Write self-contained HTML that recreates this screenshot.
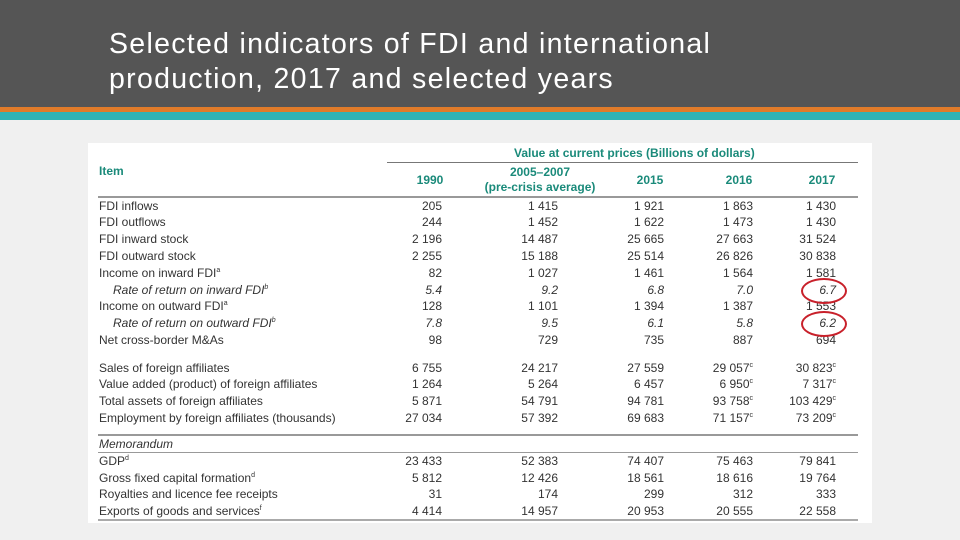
<!DOCTYPE html>
<html><head><meta charset="utf-8">
<style>
body{margin:0;width:960px;height:540px;overflow:hidden;background:#f0f0f0;font-family:"Liberation Sans",sans-serif;position:relative}
#bar{position:absolute;left:0;top:0;width:960px;height:107px;background:#555555}
#or{position:absolute;left:0;top:107px;width:960px;height:5px;background:#e07b2a}
#te{position:absolute;left:0;top:112px;width:960px;height:8px;background:#2fb3b5}
#title{position:absolute;left:109px;top:27px;color:#fff;font-size:28.5px;letter-spacing:1.3px;line-height:35px}
#tbl{position:absolute;left:88px;top:143px;width:784px;height:380px;background:#fff}
.t{position:absolute;font-family:"Liberation Sans Narrow","Liberation Sans",sans-serif;font-size:12px;color:#333;white-space:nowrap;line-height:14px}
.h{color:#1a8a7a;font-weight:bold}
.r{text-align:right}
.i{font-style:italic}
.ln{position:absolute;background:#888;height:1px}
.circ{position:absolute;border:2px solid #c8202a;border-radius:50%;width:42px;height:22px}
sup{font-size:7px;line-height:0;vertical-align:5px}
</style></head><body>
<div id="bar"></div>
<div id="or"></div>
<div id="te"></div>
<div id="title">Selected indicators of FDI and international<br>production, 2017 and selected years</div>
<div id="tbl"></div>
<script>
const labels=["FDI inflows","FDI outflows","FDI inward stock","FDI outward stock","Income on inward FDI<sup>a</sup>","Rate of return on inward FDI<sup>b</sup>","Income on outward FDI<sup>a</sup>","Rate of return on outward FDI<sup>b</sup>","Net cross-border M&amp;As","Sales of foreign affiliates","Value added (product) of foreign affiliates","Total assets of foreign affiliates","Employment by foreign affiliates (thousands)","Memorandum","GDP<sup>d</sup>","Gross fixed capital formation<sup>d</sup>","Royalties and licence fee receipts","Exports of goods and services<sup>f</sup>"];
const rowsY=[206,222,239,256,273,290,306,323,340,368,384,401,418,444,461,478,494,511];
const vals=[
["205","1 415","1 921","1 863","1 430"],["244","1 452","1 622","1 473","1 430"],
["2 196","14 487","25 665","27 663","31 524"],["2 255","15 188","25 514","26 826","30 838"],
["82","1 027","1 461","1 564","1 581"],["5.4","9.2","6.8","7.0","6.7"],
["128","1 101","1 394","1 387","1 553"],["7.8","9.5","6.1","5.8","6.2"],
["98","729","735","887","694"],
["6 755","24 217","27 559","29 057<sup>c</sup>","30 823<sup>c</sup>"],
["1 264","5 264","6 457","6 950<sup>c</sup>","7 317<sup>c</sup>"],
["5 871","54 791","94 781","93 758<sup>c</sup>","103 429<sup>c</sup>"],
["27 034","57 392","69 683","71 157<sup>c</sup>","73 209<sup>c</sup>"],
null,
["23 433","52 383","74 407","75 463","79 841"],["5 812","12 426","18 561","18 616","19 764"],
["31","174","299","312","333"],["4 414","14 957","20 953","20 555","22 558"]];
const colR=[442,558,664,753,836];
function add(html,x,y,cls,name,right){
 const d=document.createElement('div');d.className='t '+cls;d.innerHTML=html;
 
 
 if(right){d.style.right=(960-x)+'px';}else d.style.left=x+'px';
 d.style.top=(y-7)+'px';document.body.appendChild(d);return d;}
function line(x,y,w,h,c){const d=document.createElement('div');d.className='ln';d.style.left=x+'px';d.style.top=y+'px';d.style.width=w+'px';d.style.height=(h||1)+'px';if(c)d.style.background=c;
 
 
 document.body.appendChild(d);}
add('Value at current prices (Billions of dollars)',514,153,'h','header-value-caption',false);
line(387,162,471,1,'#777');
add('Item',99,171,'h','header-item',false);
const heads=['1990','2005–2007','2015','2016','2017'];const hx=[430,540,650,739,822];
heads.forEach((h,i)=>{const d=add(h,hx[i],i==1?172:180,'h r','header-'+i,false);d.style.transform='translateX(-50%)';d.style.textAlign='center';});
add('(pre-crisis average)',540,187,'h','header-precrisis',false).style.transform='translateX(-50%)';
line(98,196,760,2,'#999');
labels.forEach((l,k)=>{const it=(k==5||k==7);const d=add(l,it?113:99,rowsY[k],(it||k==13)?'i':'','row-label',false);
 if(vals[k])vals[k].forEach((v,j)=>add(v,colR[j],rowsY[k],'r'+(it?' i':''),'cell',true));});
line(98,434,760,2,'#999');line(98,452,760,1,'#999');line(98,519,760,2,'#aaa');
[[801,278],[801,311]].forEach(p=>{const c=document.createElement('div');c.className='circ';c.style.left=p[0]+'px';c.style.top=p[1]+'px';
 
 
 document.body.appendChild(c);});
</script>
</body></html>
